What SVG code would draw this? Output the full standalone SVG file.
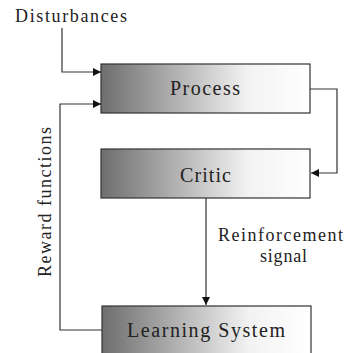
<svg xmlns="http://www.w3.org/2000/svg" width="347" height="353" viewBox="0 0 347 353">
<style>
.box{stroke:#333;stroke-width:1.2}
.t{font-family:'Liberation Serif','DejaVu Serif','Times New Roman',serif;fill:#222}
.c{fill:none;stroke:#333;stroke-width:1.2}
</style>
<defs>
<linearGradient id="g" x1="0" y1="0" x2="1" y2="0">
<stop offset="0" stop-color="#6e6e6e"/>
<stop offset="0.7" stop-color="#f2f2f2"/>
<stop offset="1" stop-color="#ffffff"/>
</linearGradient>
<marker id="a" viewBox="0 0 10 10" refX="10" refY="5" markerWidth="8" markerHeight="8" markerUnits="userSpaceOnUse" orient="auto">
<path d="M0,0 L10,5 L0,10 z" fill="#111"/>
</marker>
</defs>
<rect width="347" height="353" fill="#fff"/>
<g id="process">
<rect class="box" x="101" y="64" width="209" height="49" fill="url(#g)"/>
<text class="t" x="170" y="95" font-size="20" textLength="70" lengthAdjust="spacing">Process</text>
</g>
<g id="critic">
<rect class="box" x="101" y="149" width="209" height="49" fill="url(#g)"/>
<text class="t" x="180" y="182" font-size="20" textLength="51" lengthAdjust="spacing">Critic</text>
</g>
<g id="learning">
<rect class="box" x="102" y="306" width="209" height="52" fill="url(#g)"/>
<text class="t" x="127" y="337" font-size="20" textLength="158" lengthAdjust="spacing">Learning System</text>
</g>
<g id="connectors">
<path class="c" d="M62,28 V72 H101" marker-end="url(#a)"/>
<path class="c" d="M102,330 H60 V104 H101" marker-end="url(#a)"/>
<path class="c" d="M310,89 H337 V173 H311" marker-end="url(#a)"/>
<path class="c" d="M206,198 V305" marker-end="url(#a)"/>
</g>
<g id="labels">
<text class="t" x="15" y="22" font-size="18" textLength="112" lengthAdjust="spacing">Disturbances</text>
<text class="t" x="218" y="241" font-size="18" textLength="125" lengthAdjust="spacing">Reinforcement</text>
<text class="t" x="260" y="262" font-size="18" textLength="47" lengthAdjust="spacing">signal</text>
<text class="t" transform="translate(51,277) rotate(-90)" font-size="18" textLength="150" lengthAdjust="spacing">Reward functions</text>
</g>
</svg>
